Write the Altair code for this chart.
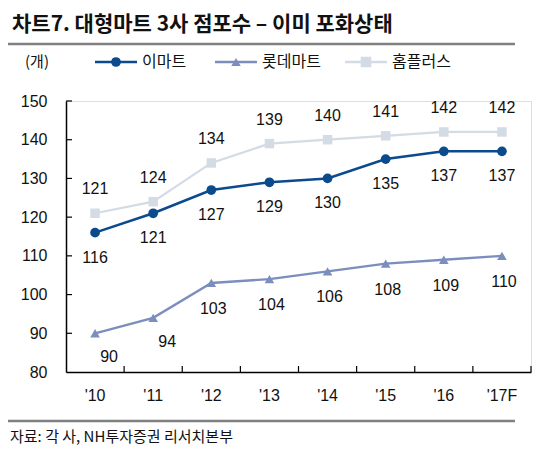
import altair as alt
import pandas as pd
import json

years = ["'10", "'11", "'12", "'13", "'14", "'15", "'16", "'17F"]
emart = [116, 121, 127, 129, 130, 135, 137, 137]
lotte = [90, 94, 103, 104, 106, 108, 109, 110]
homeplus = [121, 124, 134, 139, 140, 141, 142, 142]
series = ["이마트", "롯데마트", "홈플러스"]
colors = ["#0b4a8d", "#7b8ebd", "#d3dbe4"]
shapes = ["circle", "triangle-up", "square"]
y_ticks = [80, 90, 100, 110, 120, 130, 140, 150]
title_text = "차트7. 대형마트 3사 점포수 – 이미 포화상태"
unit_text = "(개)"
source_text = "자료: 각 사, NH투자증권 리서치본부"

FONT = "Liberation Sans, Arial, Noto Sans CJK KR"
KFONT = "Noto Sans CJK KR"
W, H = 465, 271

df = pd.DataFrame({
    "year": years * 3,
    "series": [s for s in series for _ in years],
    "value": emart + lotte + homeplus,
})

xscale = alt.Scale(type="band", domain=years, paddingInner=0, paddingOuter=0)
xaxis = alt.Axis(title=None, ticks=False, labelAngle=0, domainColor="black",
                 domainWidth=1.5, labelPadding=15, labelFontSize=16,
                 labelFont=FONT, labelColor="#111", labelOverlap=False)
yscale = alt.Scale(domain=[80, 150], nice=False, zero=False)
yaxis = alt.Axis(title=None, values=y_ticks, tickCount=8, ticks=False, grid=False,
                 domainColor="black", domainWidth=1.5, labelPadding=19,
                 labelFontSize=16, labelFont=FONT, labelColor="#111",
                 labelOverlap=False, labelBound=False, labelFlush=False)
xenc = alt.X("year:N", sort=years, bandPosition=0.5, scale=xscale, axis=xaxis)
yenc = alt.Y("value:Q", scale=yscale, axis=yaxis)
cenc = alt.Color("series:N", scale=alt.Scale(domain=series, range=colors), legend=None)

base = alt.Chart(df)
lines = base.mark_line().encode(
    x=xenc, y=yenc, color=cenc,
    strokeWidth=alt.StrokeWidth("series:N", scale=alt.Scale(domain=series, range=[2.5, 2.2, 2.2]), legend=None),
)
points = base.mark_point(filled=True, opacity=1).encode(
    x=xenc, y=yenc, color=cenc,
    shape=alt.Shape("series:N", scale=alt.Scale(domain=series, range=shapes), legend=None),
    size=alt.Size("series:N", scale=alt.Scale(domain=series, range=[95, 90, 110]), legend=None),
)

def labels(filt, dx, dy):
    return base.transform_filter(filt).mark_text(
        fontSize=16, font=FONT, color="#111", dx=dx, dy=dy
    ).encode(x=xenc, y=yenc, text=alt.Text("value:Q"))

first_two = json.dumps(years[:2], ensure_ascii=False)
lab_home = labels("datum.series == '홈플러스'", 0, -24)
lab_emart = labels("datum.series == '이마트'", 0, 25)
lab_lotte1 = labels(f"datum.series == '롯데마트' && indexof({first_two}, datum.year) >= 0", 14, 24)
lab_lotte2 = labels(f"datum.series == '롯데마트' && indexof({first_two}, datum.year) < 0", 2, 26)

# inward ticks
xt = alt.Chart(pd.DataFrame({"year": years})).mark_rule(color="black", strokeWidth=1.2).encode(
    x=alt.X("year:N", sort=years, bandPosition=1, scale=xscale, axis=xaxis),
    y=alt.value(H), y2=alt.value(H - 6))
yt = alt.Chart(pd.DataFrame({"value": y_ticks[1:]})).mark_rule(color="black", strokeWidth=1.2).encode(
    y=yenc, x=alt.value(0), x2=alt.value(6))

# annotations
title = alt.Chart(pd.DataFrame({"t": [title_text]})).mark_text(
    align="left", baseline="middle", fontSize=21, fontWeight="bold", font=KFONT, color="#111"
).encode(text="t:N", x=alt.value(-54), y=alt.value(-76))
rule_top = alt.Chart(pd.DataFrame({"t": [title_text]})).mark_rule(color="#808080", strokeWidth=2.5).encode(
    x=alt.value(-58), x2=alt.value(449), y=alt.value(-57))
rule_bot = alt.Chart(pd.DataFrame({"t": [source_text]})).mark_rule(color="#808080", strokeWidth=2.5).encode(
    x=alt.value(-58), x2=alt.value(449), y=alt.value(320))
source = alt.Chart(pd.DataFrame({"t": [source_text]})).mark_text(
    align="left", baseline="middle", fontSize=15, font=KFONT, color="#111"
).encode(text="t:N", x=alt.value(-56), y=alt.value(336))
unit = alt.Chart(pd.DataFrame({"t": [unit_text]})).mark_text(
    align="center", baseline="middle", fontSize=15, font=KFONT, color="#111"
).encode(text="t:N", x=alt.value(-29), y=alt.value(-39))

# legend
leg_layers = []
leg_x = [29, 149, 279]
LY = -39
for i, s in enumerate(series):
    ld = alt.Chart(pd.DataFrame({"s": [s]}))
    x0 = leg_x[i]
    leg_layers.append(ld.mark_rule(color=colors[i], strokeWidth=2.5).encode(
        x=alt.value(x0), x2=alt.value(x0 + 42), y=alt.value(LY)))
    leg_layers.append(ld.mark_point(filled=True, opacity=1, color=colors[i], shape=shapes[i],
                                    size=[95, 90, 110][i]).encode(
        x=alt.value(x0 + 21), y=alt.value(LY)))
    leg_layers.append(ld.mark_text(align="left", baseline="middle", fontSize=16, font=KFONT,
                                   color="#111").encode(
        text="s:N", x=alt.value(x0 + 47), y=alt.value(LY)))

chart = alt.layer(
    lines, points, lab_home, lab_emart, lab_lotte1, lab_lotte2, xt, yt,
    title, rule_top, rule_bot, source, unit, *leg_layers
).properties(
    width=W, height=H,
    autosize=alt.AutoSizeParams(type="none"),
    padding={"left": 58, "top": 93, "right": 16, "bottom": 78},
).configure_view(stroke=None).configure(background="white")

chart.save("out.html", embed_options={"renderer": "svg", "actions": False})
